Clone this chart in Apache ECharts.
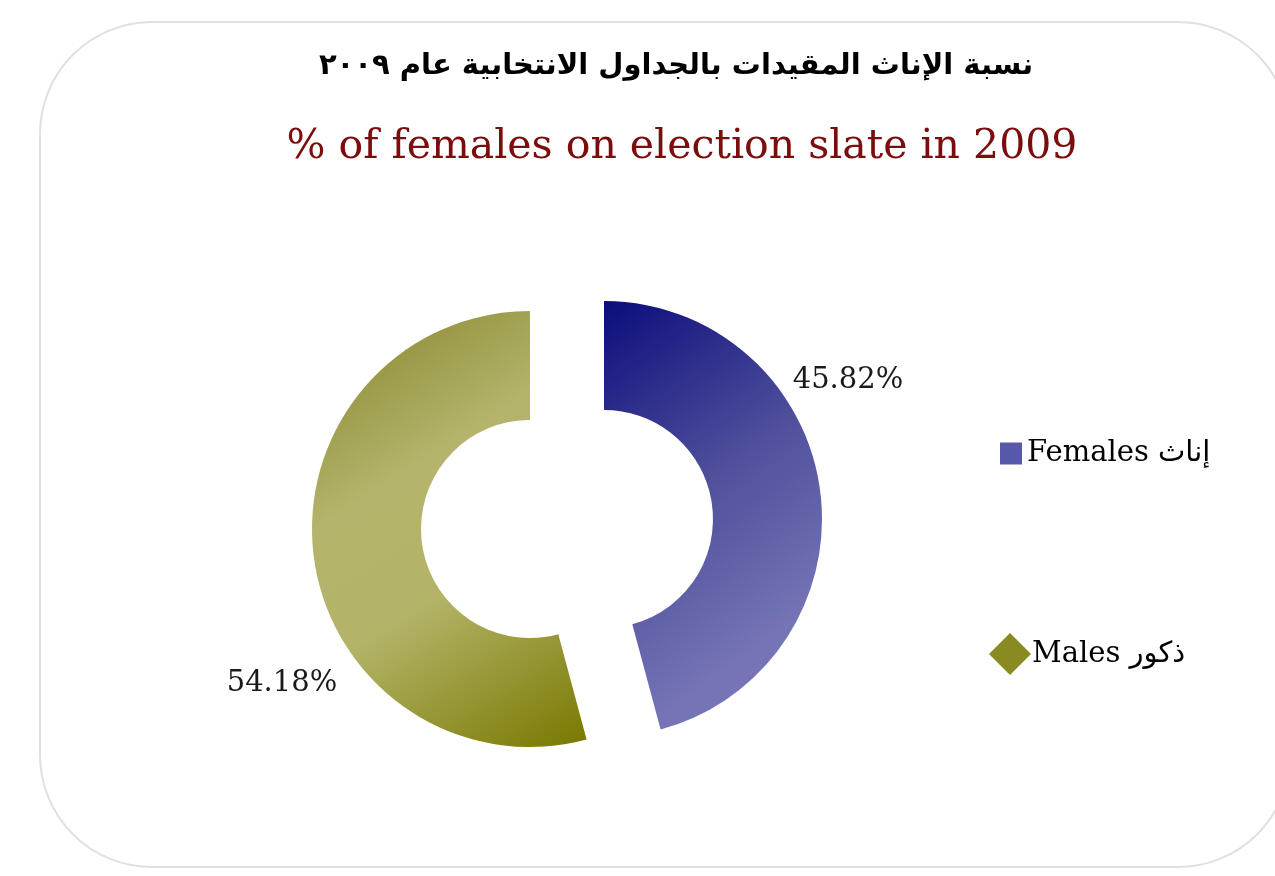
<!DOCTYPE html>
<html>
<head>
<meta charset="utf-8">
<script src="https://cdn.jsdelivr.net/npm/echarts@6/dist/echarts.min.js"></script>
<style>
  html, body { margin: 0; padding: 0; background: #fff; }
  #chart { width: 1275px; height: 876px; }
</style>
</head>
<body>
<div id="chart"></div>
<script>
// data
var categories = ['Females إناث', 'Males ذكور'];
var shares = [45.82, 54.18];
var titleAr = 'نسبة الإناث المقيدات بالجداول الانتخابية عام ٢٠٠٩';
var titleEn = '% of females on election slate in 2009';

var serif = '"DejaVu Serif", "DejaVu Sans", serif';

// fills: navy for females, olive for males
var fills = [
  new echarts.graphic.LinearGradient(0, 0, 1, 0.7, [
    { offset: 0, color: '#0c0c7c' },
    { offset: 0.55, color: '#4f4f9c' },
    { offset: 1, color: '#7474b6' }
  ]),
  new echarts.graphic.LinearGradient(0, 0, 1, 1, [
    { offset: 0, color: '#838328' },
    { offset: 0.36, color: '#b4b46c' },
    { offset: 0.6, color: '#b3b368' },
    { offset: 1, color: '#787800' }
  ])
];
var legendColors = ['#5858a8', '#8a8a22'];

// each slice is pulled out from the middle, so each gets its own pie
var centers = [[604, 519], [530, 529]];
// label spots next to the slices
var labelSpots = [[848, 380], [282, 683]];

var series = [];
for (let k = 0; k < categories.length; k++) {
  var data = [];
  for (let i = 0; i < categories.length; i++) {
    data.push({
      name: categories[i],
      value: shares[i],
      itemStyle: { color: i === k ? fills[i] : 'rgba(0,0,0,0)' },
      label: { show: i === k }
    });
  }
  series.push({
    type: 'pie',
    center: centers[k],
    radius: [109, 218],
    startAngle: 90,
    clockwise: true,
    silent: true,
    emphasis: { disabled: true },
    label: {
      position: 'outside',
      formatter: function (p) { return p.value.toFixed(2) + '%'; },
      fontFamily: serif,
      fontSize: 29,
      color: '#1a1a1a'
    },
    labelLine: { show: false },
    labelLayout: function (p) {
      var s = labelSpots[p.dataIndex];
      return { x: s[0], y: s[1], align: 'center', verticalAlign: 'middle' };
    },
    data: data
  });
}

var myChart = echarts.init(document.getElementById('chart'));
var option = {
  animation: false,
  backgroundColor: '#fff',
  graphic: [{
    type: 'rect',
    z: -10,
    shape: { x: 40, y: 22, width: 1250, height: 845, r: 112 },
    style: { fill: '#fff', stroke: '#e0e0e0', lineWidth: 2 }
  }],
  title: [{
    text: titleAr,
    left: 671,
    top: 47,
    textAlign: 'center',
    textStyle: { fontFamily: '"DejaVu Sans", sans-serif', fontWeight: 'bold', fontSize: 29, color: '#000' }
  }, {
    text: titleEn,
    left: 677,
    top: 122,
    textAlign: 'center',
    textStyle: { fontFamily: serif, fontWeight: 'normal', fontSize: 41, color: '#7b0d0d' }
  }],
  legend: [{
    data: [{ name: categories[0], icon: 'rect', itemStyle: { color: legendColors[0] } }],
    left: 995,
    top: 434,
    itemWidth: 22,
    itemHeight: 22,
    selectedMode: false,
    textStyle: { fontFamily: serif, fontSize: 29, color: '#000' }
  }, {
    data: [{ name: categories[1], icon: 'diamond', itemStyle: { color: legendColors[1] } }],
    left: 984,
    top: 628,
    itemWidth: 42,
    itemHeight: 42,
    selectedMode: false,
    textStyle: { fontFamily: serif, fontSize: 29, color: '#000', padding: [0, 0, 0, -4] }
  }],
  series: series
};
myChart.setOption(option);
</script>
</body>
</html>
